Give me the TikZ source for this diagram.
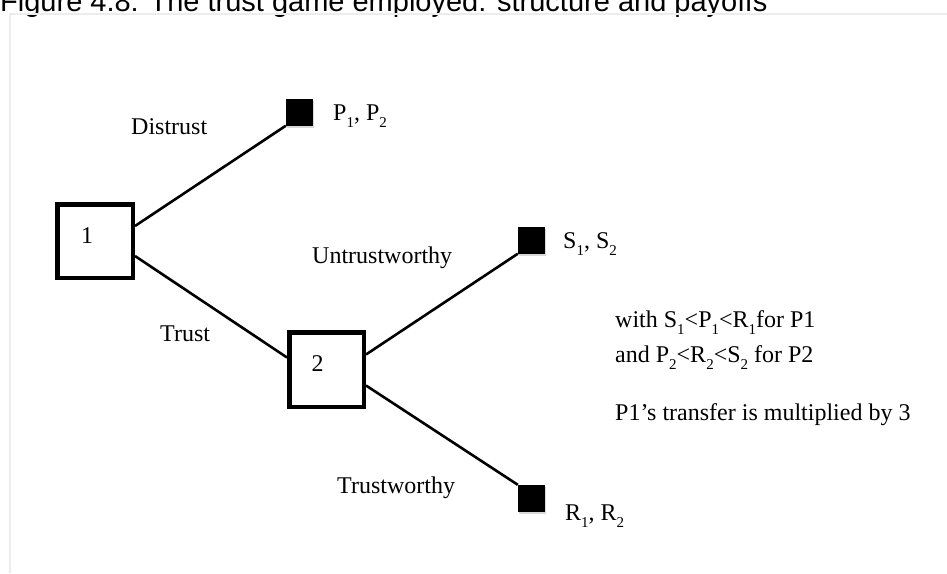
\documentclass[tikz,border=0pt]{standalone}
\usepackage{fontspec}
\setmainfont{Liberation Serif}
\newfontfamily\titlefont{Liberation Sans}
\usetikzlibrary{shadows}
\newcommand{\sbs}[1]{\raisebox{-0.33em}{\fontsize{15}{15}\selectfont #1}}
\begin{document}
\begin{tikzpicture}[x=1pt,y=-1pt,
  lbl/.style={font=\fontsize{24}{28}\selectfont, inner sep=0pt, anchor=base west},
  player/.style={draw, line width=4.5pt, inner sep=0pt},
  term/.style={fill=black, minimum size=27pt, inner sep=0pt,
    drop shadow={shadow xshift=1pt, shadow yshift=-2pt, opacity=0.3}},
  edge/.style={line width=2.6pt}]
\useasboundingbox (0,0) rectangle (947,573);
\begin{scope}
\clip (0,0) rectangle (947,573);
\node[anchor=base west, inner sep=0pt, font=\titlefont\fontsize{29}{34}\selectfont] (title) at (0,11) {Figure 4.8: The trust game employed: structure and payoffs};
\end{scope}
\draw[gray!15, line width=2.5pt] (10,573) -- (10,14) -- (947,14);
% decision nodes
\node[player, minimum width=75.5pt, minimum height=73.5pt] (p1) at (95,241) {};
\node[player, minimum width=74.5pt, minimum height=74.5pt] (p2) at (326.5,369.5) {};
\node[lbl] (n1) at (81,243) {1};
\node[lbl] (n2) at (311.5,371) {2};
% terminal nodes
\node[term] (tP) at (299.5,112) {};
\node[term] (tS) at (531.5,240) {};
\node[term] (tR) at (531.5,498.5) {};
% edges
\draw[edge] ([yshift=15pt]p1.east) -- (tP.south west);
\draw[edge] ([yshift=-15pt]p1.east) -- ([yshift=12pt]p2.west);
\draw[edge] ([yshift=15pt]p2.east) -- (tS.south west);
\draw[edge] ([yshift=-16pt]p2.east) -- (tR.north west);
% payoffs
\node[lbl] (lP) at (333,120) {P\sbs{1}, P\sbs{2}};
\node[lbl] (lS) at (563,248) {S\sbs{1}, S\sbs{2}};
\node[lbl] (lR) at (565,520) {R\sbs{1}, R\sbs{2}};
% action labels
\node[lbl] (aD) at (131,134) {Distrust};
\node[lbl] (aT) at (160,341) {Trust};
\node[lbl] (aU) at (312,263) {Untrustworthy};
\node[lbl] (aW) at (337,493) {Trustworthy};
% notes
\node[lbl] (c1) at (615,327) {with S\sbs{1}<P\sbs{1}<R\sbs{1}for P1};
\node[lbl] (c2) at (615,362) {and P\sbs{2}<R\sbs{2}<S\sbs{2} for P2};
\node[lbl] (c3) at (615,420) {P1’s transfer is multiplied by 3};
\end{tikzpicture}
\end{document}
